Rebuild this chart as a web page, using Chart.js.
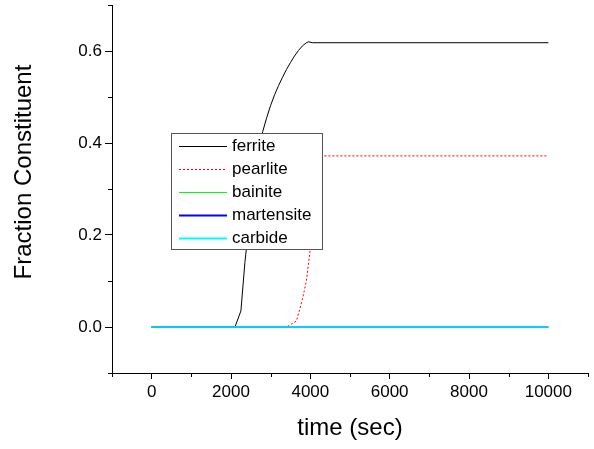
<!DOCTYPE html>
<html>
<head>
<meta charset="utf-8">
<script src="https://cdn.jsdelivr.net/npm/chart.js@4/dist/chart.umd.min.js"></script>
<style>
  html, body { margin: 0; padding: 0; background: #fff; }
  #plot { display: block; }
</style>
</head>
<body>
<canvas id="plot" width="594" height="449"></canvas>
<script>
// phase fractions vs. time
const ferriteTime = [0, 2100, 2250, 2350, 2450, 2550, 2650, 2750, 2800, 2900, 3000, 3100, 3200, 3300, 3400, 3500, 3600, 3700, 3800, 3900, 3960, 4050, 10000];
const ferriteFrac = [0, 0, 0.035, 0.14, 0.22, 0.29, 0.35, 0.405, 0.425, 0.455, 0.482, 0.505, 0.525, 0.543, 0.56, 0.575, 0.589, 0.601, 0.611, 0.618, 0.62, 0.618, 0.618];
const pearliteTime = [0, 3400, 3650, 3800, 3900, 4000, 4100, 4200, 4280, 4300, 10000];
const pearliteFrac = [0, 0, 0.013, 0.06, 0.10, 0.17, 0.24, 0.31, 0.36, 0.372, 0.372];
const zeroTime = [0, 10000];
const zeroFrac = [0, 0];

const seriesNames = ['ferrite', 'pearlite', 'bainite', 'martensite', 'carbide'];
const seriesColors = ['#000000', '#ff0000', '#00ff00', '#0000ff', '#00ffff'];
const xTicks = [-1000, 0, 1000, 2000, 3000, 4000, 5000, 6000, 7000, 8000, 9000, 10000, 11000];
const yTicks = [-0.1, 0, 0.1, 0.2, 0.3, 0.4, 0.5, 0.6, 0.7];

const FONT = '"Liberation Sans", Arial, sans-serif';

function pts(xs, ys) {
    return xs.map((x, i) => ({ x: x, y: ys[i] }));
}

const isMajorX = v => Math.round(v / 1000) % 2 === 0;
const isMajorY = v => Math.round(v * 10) % 2 === 0;

// legend box drawn inside the plot area
const boxLegend = {
    id: 'boxLegend',
    afterDraw(chart) {
        const c = chart.ctx;
        const left = 171, top = 133, w = 151, h = 116;
        c.save();
        c.fillStyle = '#fff';
        c.fillRect(left, top, w, h);
        c.strokeStyle = '#555';
        c.lineWidth = 1;
        c.strokeRect(left + 0.5, top + 0.5, w, h);
        c.font = '17px ' + FONT;
        c.textBaseline = 'middle';
        chart.data.datasets.forEach((ds, i) => {
            const y = Math.round(146 + i * 23.1) + 0.5;
            c.beginPath();
            c.strokeStyle = seriesColors[i];
            c.lineWidth = i >= 3 ? 2 : 1;
            c.setLineDash(ds.borderDash || []);
            c.moveTo(179, y);
            c.lineTo(227, y);
            c.stroke();
            c.setLineDash([]);
            c.fillStyle = '#000';
            c.fillText(ds.label, 232, y);
        });
        c.restore();
    }
};

// short minor ticks and the y title
const axisExtras = {
    id: 'axisExtras',
    afterDraw(chart) {
        const c = chart.ctx;
        const xs = chart.scales.x, ys = chart.scales.y;
        c.save();
        c.strokeStyle = '#000';
        c.lineWidth = 1;
        c.beginPath();
        xTicks.filter(v => !isMajorX(v)).forEach(v => {
            const px = Math.round(xs.getPixelForValue(v)) + 0.5;
            c.moveTo(px, ys.bottom);
            c.lineTo(px, ys.bottom + 4);
        });
        yTicks.filter(v => !isMajorY(v)).forEach(v => {
            const py = Math.round(ys.getPixelForValue(v)) + 0.5;
            c.moveTo(xs.left, py);
            c.lineTo(xs.left - 4, py);
        });
        c.stroke();

        c.translate(24, 172);
        c.rotate(-Math.PI / 2);
        c.font = '24px ' + FONT;
        c.textAlign = 'center';
        c.textBaseline = 'middle';
        c.fillStyle = '#000';
        c.fillText('Fraction Constituent', 0, 0);
        c.restore();
    }
};

new Chart(document.getElementById('plot'), {
    type: 'line',
    data: {
        datasets: [
            { label: seriesNames[0], data: pts(ferriteTime, ferriteFrac), borderColor: seriesColors[0], borderWidth: 1, order: 5 },
            { label: seriesNames[1], data: pts(pearliteTime, pearliteFrac), borderColor: seriesColors[1], borderWidth: 1, borderDash: [2, 2], order: 4 },
            { label: seriesNames[2], data: pts(zeroTime, zeroFrac), borderColor: seriesColors[2], borderWidth: 1, order: 3 },
            { label: seriesNames[3], data: pts(zeroTime, zeroFrac), borderColor: seriesColors[3], borderWidth: 1.5, order: 2 },
            { label: seriesNames[4], data: pts(zeroTime, zeroFrac), borderColor: seriesColors[4], borderWidth: 1.5, order: 1 }
        ]
    },
    options: {
        responsive: false,
        animation: false,
        devicePixelRatio: 1,
        layout: { padding: { top: 5, right: 6, left: 0, bottom: 0 } },
        elements: { point: { radius: 0 }, line: { tension: 0 } },
        plugins: { legend: { display: false }, tooltip: { enabled: false } },
        scales: {
            x: {
                type: 'linear',
                min: -1000,
                max: 11000,
                afterBuildTicks: s => { s.ticks = xTicks.map(v => ({ value: v })); },
                afterFit: s => { s.height = 76; s.paddingLeft = 0; s.paddingRight = 0; },
                grid: {
                    drawOnChartArea: false,
                    tickLength: 6,
                    tickColor: ctx => (ctx.tick && isMajorX(ctx.tick.value)) ? '#000' : 'rgba(0,0,0,0)'
                },
                border: { display: true, color: '#000', width: 1 },
                ticks: {
                    autoSkip: false,
                    maxRotation: 0,
                    padding: 3,
                    color: '#000',
                    font: { family: FONT, size: 17 },
                    callback: v => isMajorX(v) ? String(v) : ''
                },
                title: {
                    display: true,
                    text: 'time (sec)',
                    color: '#000',
                    font: { family: FONT, size: 24, lineHeight: 1 },
                    padding: { top: 0, bottom: 9 }
                }
            },
            y: {
                type: 'linear',
                min: -0.1,
                max: 0.7,
                afterBuildTicks: s => { s.ticks = yTicks.map(v => ({ value: v })); },
                afterFit: s => { s.width = 112; s.paddingTop = 0; s.paddingBottom = 0; },
                grid: {
                    drawOnChartArea: false,
                    tickLength: 7,
                    tickColor: ctx => (ctx.tick && isMajorY(ctx.tick.value)) ? '#000' : 'rgba(0,0,0,0)'
                },
                border: { display: true, color: '#000', width: 1 },
                ticks: {
                    autoSkip: false,
                    padding: 3,
                    color: '#000',
                    font: { family: FONT, size: 17 },
                    callback: v => isMajorY(v) ? v.toFixed(1) : ''
                }
            }
        }
    },
    plugins: [boxLegend, axisExtras]
});
</script>
</body>
</html>
